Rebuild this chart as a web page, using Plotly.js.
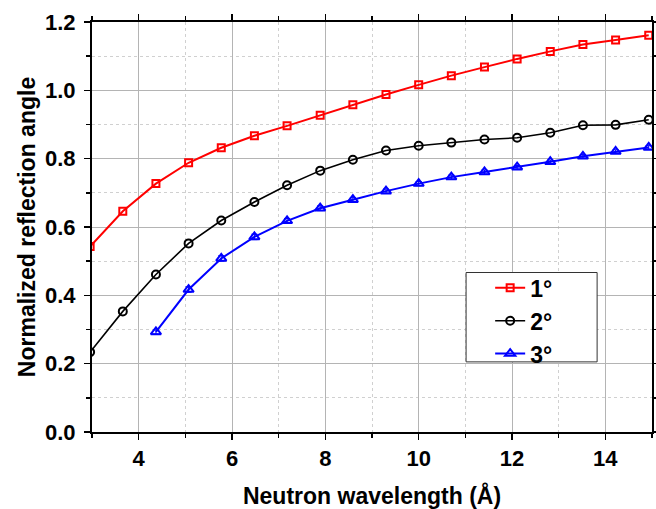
<!DOCTYPE html>
<html><head><meta charset="utf-8">
<script src="https://cdn.plot.ly/plotly-3.0.1.min.js"></script>
<style>html,body{margin:0;padding:0;background:#fff}#c{width:656px;height:509px}</style>
</head><body><div id="c"></div>
<script>
const wavelength = [2.96,3.66,4.37,5.07,5.77,6.48,7.18,7.89,8.59,9.30,10.00,10.70,11.41,12.11,12.82,13.52,14.22,14.93];
const order1 = [0.543,0.646,0.727,0.788,0.832,0.867,0.896,0.927,0.958,0.988,1.016,1.043,1.068,1.092,1.114,1.134,1.147,1.161];
const order2 = [0.234,0.353,0.461,0.552,0.619,0.673,0.722,0.765,0.797,0.824,0.838,0.847,0.856,0.861,0.876,0.898,0.899,0.914];
const order3 = [null,null,0.293,0.417,0.508,0.571,0.618,0.655,0.680,0.705,0.727,0.746,0.761,0.775,0.791,0.807,0.821,0.833];
const err3 = [0,0,0.006,0.008,0.008,0.008,0.007,0.007,0.006,0.006,0.006,0.006,0.006,0.005,0.005,0.005,0.005,0.005];
const names = ['1°','2°','3°'];

const FF = 'Arial, Liberation Sans, sans-serif';
const traces = [
 {x:wavelength,y:order1,name:names[0],mode:'lines+markers',line:{color:'#ff0000',width:2},
  marker:{symbol:'square-open',size:7,color:'#ff0000',line:{width:2}}},
 {x:wavelength,y:order2,name:names[1],mode:'lines+markers',line:{color:'#000000',width:1.6},
  marker:{symbol:'circle-open',size:8,color:'#000000',line:{width:2}}},
 {x:wavelength,y:order3,name:names[2],mode:'lines+markers',line:{color:'#0000ff',width:2},
  marker:{symbol:'triangle-up-open',size:9,color:'#0000ff',line:{width:2}},
  error_y:{type:'data',array:err3,visible:true,color:'#0000ff',thickness:1,width:3}}
];
const layout = {
 width:656,height:509,margin:{l:92,r:4,t:22,b:77},
 paper_bgcolor:'#fff',plot_bgcolor:'#fff',showlegend:true,
 font:{family:FF,size:22,color:'#000'},
 xaxis:{range:[3,15],dtick:2,tick0:0,ticks:'outside',ticklen:6,tickwidth:1.5,tickcolor:'#000',
  showline:true,linecolor:'#000',linewidth:2,mirror:'allticks',automargin:false,
  showgrid:true,gridcolor:'#b4b4b4',gridwidth:1,zeroline:false,
  tickfont:{family:FF,size:22,color:'#000',weight:700},
  minor:{dtick:1,tick0:0,ticks:'outside',ticklen:4,tickcolor:'#000',showgrid:true,gridcolor:'#d0d0d0',griddash:'dot',gridwidth:1},
  title:{text:'Neutron wavelength (Å)',font:{family:FF,size:23,color:'#000',weight:'bold'}}},
 yaxis:{range:[0,1.2],dtick:0.2,tick0:0,tickformat:'.1f',ticks:'outside',ticklen:6,tickwidth:1.5,tickcolor:'#000',
  showline:true,linecolor:'#000',linewidth:2,mirror:'allticks',automargin:false,ticklabelstandoff:4,
  showgrid:true,gridcolor:'#b4b4b4',gridwidth:1,zeroline:false,
  tickfont:{family:FF,size:22,color:'#000',weight:700},
  minor:{dtick:0.1,tick0:0,ticks:'outside',ticklen:4,tickcolor:'#000',showgrid:true,gridcolor:'#d0d0d0',griddash:'dot',gridwidth:1},
  title:{text:'Normalized reflection angle',font:{family:FF,size:23,color:'#000',weight:'bold'}}},
 shapes:[{type:'rect',xref:'paper',yref:'paper',x0:0.668,x1:0.902,y0:0.171,y1:0.389,
  line:{color:'#333',width:1},fillcolor:'#fff',layer:'above'}],
 legend:{x:0.711,y:0.404,xanchor:'left',yanchor:'top',bgcolor:'rgba(0,0,0,0)',borderwidth:0,
  font:{family:FF,size:23,color:'#000',weight:'bold'},tracegroupgap:0}
};
Plotly.newPlot('c',traces,layout,{displayModeBar:false,staticPlot:true});
</script></body></html>
